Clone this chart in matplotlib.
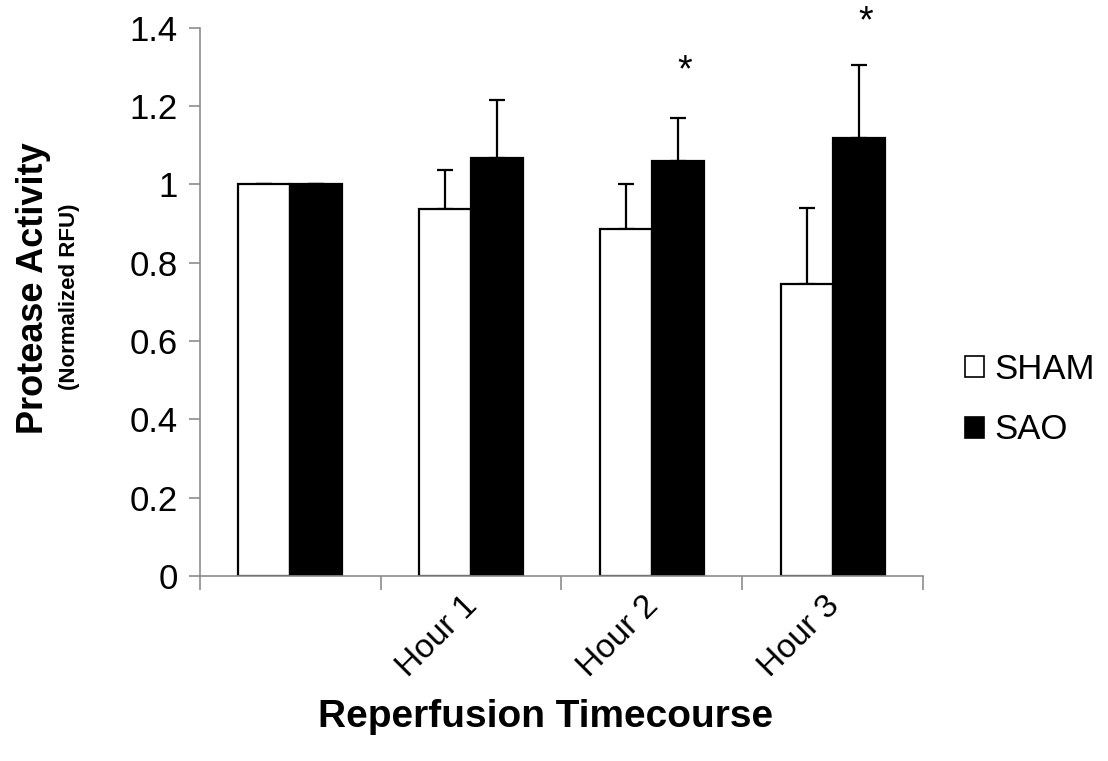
import matplotlib
matplotlib.use("Agg")
import matplotlib.pyplot as plt
import matplotlib.patches as mpatches
from matplotlib.transforms import ScaledTranslation
import numpy as np

plt.rcParams['font.family'] = ['Liberation Sans', 'DejaVu Sans']

# === data ===
categories = ["", "Hour 1", "Hour 2", "Hour 3"]
sham = [1.0, 0.937, 0.886, 0.746]
sham_err = [0.0, 0.100, 0.114, 0.194]
sao = [1.0, 1.066, 1.059, 1.117]
sao_err = [0.0, 0.149, 0.111, 0.187]
# significance stars: (category index, height)
star_cats = [2, 3]
star_y = [1.288, 1.414]

axis_gray = '#8c8c8c'
bar_w = 0.288

fig = plt.figure(figsize=(11.08, 7.61), dpi=100)
ax = fig.add_axes([0.1805, 0.2431, 0.833 - 0.1805, 0.9637 - 0.2431])

x = np.arange(len(categories))
ax.bar(x - bar_w / 2, sham, bar_w, color='white', edgecolor='black', linewidth=1.6, zorder=2)
ax.bar(x + bar_w / 2, sao, bar_w, color='black', edgecolor='black', linewidth=1.6, zorder=2)

# only upper error bars
ax.errorbar(x - bar_w / 2, sham, yerr=[np.zeros(len(sham)), sham_err], fmt='none',
            ecolor='black', elinewidth=1.6, capsize=5.5, capthick=1.6, zorder=1)
ax.errorbar(x + bar_w / 2, sao, yerr=[np.zeros(len(sao)), sao_err], fmt='none',
            ecolor='black', elinewidth=1.6, capsize=5.5, capthick=1.6, zorder=1)

for c, yv in zip(star_cats, star_y):
    ax.text(c + bar_w / 2 + 0.04, yv, '*', ha='center', va='center', fontsize=27,
            clip_on=False)

ax.set_xlim(-0.5, len(categories) - 0.5)
ax.set_ylim(0, 1.4)
ax.set_yticks(np.arange(0, 1.41, 0.2))
ax.set_yticklabels(['0', '0.2', '0.4', '0.6', '0.8', '1', '1.2', '1.4'], fontsize=25)

# category labels at centres, tick marks at the boundaries
ax.set_xticks(x)
ax.set_xticklabels(categories, fontsize=24, rotation=45, ha='right', va='center',
                   rotation_mode='anchor')
ax.set_xticks(np.arange(-0.5, len(categories)), minor=True)
ax.tick_params(axis='x', which='major', length=0, pad=18)
ax.tick_params(axis='x', which='minor', length=10, width=1.2, color=axis_gray, direction='out')
ax.tick_params(axis='y', length=8, width=1.2, color=axis_gray, direction='out', pad=8)
for lbl in ax.get_xticklabels():
    lbl.set_transform(lbl.get_transform() + ScaledTranslation(0.02, 0, fig.dpi_scale_trans))

for s in ['top', 'right']:
    ax.spines[s].set_visible(False)
for s in ['left', 'bottom']:
    ax.spines[s].set_color(axis_gray)
    ax.spines[s].set_linewidth(1.2)

fig.text(0.030, 0.6216, 'Protease Activity', rotation=90, ha='center', va='center',
         fontsize=26, fontweight='bold')
fig.text(0.063, 0.6097, '(Normalized RFU)', rotation=90, ha='center', va='center',
         fontsize=16, fontweight='bold')
fig.text(0.492, 0.0447, 'Reperfusion Timecourse', ha='center', va='baseline',
         fontsize=28, fontweight='bold')

handles = [mpatches.Patch(facecolor='white', edgecolor='black', linewidth=1.2, label='SHAM'),
           mpatches.Patch(facecolor='black', edgecolor='black', linewidth=1.2, label='SAO')]
fig.legend(handles=handles, loc='center left', bbox_to_anchor=(0.871, 0.475), frameon=False,
           fontsize=25, handlelength=0.55, handleheight=0.55, handletextpad=0.3,
           labelspacing=0.8, borderpad=0, borderaxespad=0)

fig.savefig('out.png', dpi=100)
